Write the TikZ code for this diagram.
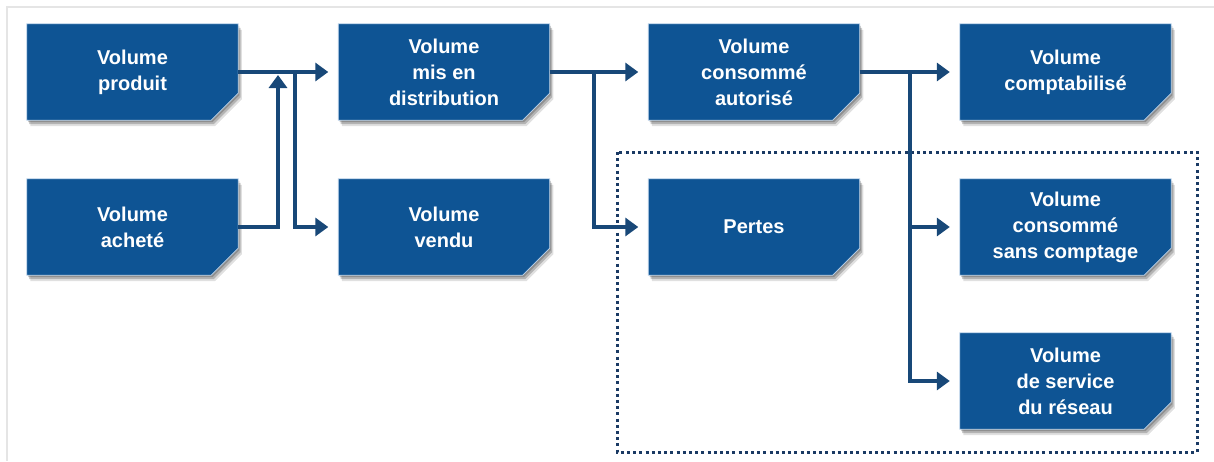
\documentclass[tikz,border=0pt]{standalone}
\usepackage{fontspec}
\setmainfont{Liberation Sans}
\usepackage{tikz}
\usetikzlibrary{arrows.meta}

\definecolor{volblue}{RGB}{14,84,148}
\definecolor{flowblue}{RGB}{24,72,120}
\definecolor{dotblue}{RGB}{26,58,100}
\definecolor{edgeblue}{RGB}{190,212,235}

\pgfdeclarelayer{bg}
\pgfdeclarelayer{boxes}
\pgfsetlayers{bg,boxes,main}

\tikzset{
  volnode/.style={rectangle, minimum width=211pt, minimum height=96pt, inner sep=0pt,
    text=white, align=center, font=\fontsize{20}{26}\selectfont\bfseries},
  flow/.style={draw=flowblue, line width=3.4pt, -{Triangle[length=13pt,width=18pt]}}
}

\begin{document}
\begin{tikzpicture}[x=1pt,y=-1pt]
  \useasboundingbox (0,0) rectangle (1214,461);
  \begin{pgfonlayer}{bg}
    \fill[white] (0,0) rectangle (1214,461);
    % frame
    \draw[black!10, line width=2pt] (7,461) -- (7,7) -- (1214,7);
    % losses
    \draw[dotblue, line width=3pt, dash pattern=on 3pt off 3.2pt] (617,152) rectangle (1197,452);
  \end{pgfonlayer}

  \node[volnode] (produit) at (132.5,72) {Volume\\produit};
  \node[volnode] (achete) at (132.5,227) {Volume\\acheté};
  \node[volnode] (distrib) at (444,72) {Volume\\mis en\\distribution};
  \node[volnode] (vendu) at (444,227) {Volume\\vendu};
  \node[volnode] (autorise) at (754,72) {Volume\\consommé\\autorisé};
  \node[volnode] (pertes) at (754,227) {Pertes};
  \node[volnode] (compta) at (1065.5,72) {Volume\\comptabilisé};
  \node[volnode] (sanscpt) at (1065.5,227) {Volume\\consommé\\sans comptage};
  \node[volnode] (service) at (1065.5,381) {Volume\\de service\\du réseau};

  % cut-corner boxes with shadow
  \begin{pgfonlayer}{boxes}
    \foreach \n in {produit,achete,distrib,vendu,autorise,pertes,compta,sanscpt,service} {
      \foreach \s/\o in {2/0.2,4/0.2,6/0.12}
        \fill[black, opacity=\o, transform canvas={xshift=0.6*\s pt, yshift=-\s pt}]
          (\n.north west) -- (\n.north east) -- ([yshift=27pt]\n.south east)
          -- ([xshift=-27pt]\n.south east) -- (\n.south west) -- cycle;
      \filldraw[fill=volblue, draw=edgeblue, line width=0.8pt]
        (\n.north west) -- (\n.north east) -- ([yshift=27pt]\n.south east)
        -- ([xshift=-27pt]\n.south east) -- (\n.south west) -- cycle;
    }
  \end{pgfonlayer}

  \coordinate (j1) at (278,72);
  \coordinate (b1) at (295,72);
  \coordinate (b2) at (594,72);
  \coordinate (b3) at (910,72);

  \draw[flow, shorten >=10pt] (produit.east) -- (distrib.west);
  \draw[flow, shorten >=3pt] (achete.east) -| (j1);
  \draw[flow, shorten >=10pt] (b1) |- (vendu.west);
  \draw[flow, shorten >=10pt] (distrib.east) -- (autorise.west);
  \draw[flow, shorten >=10pt] (b2) |- (pertes.west);
  \draw[flow, shorten >=10pt] (autorise.east) -- (compta.west);
  \draw[flow, shorten >=10pt] (b3) |- (sanscpt.west);
  \draw[flow, shorten >=10pt] (b3) |- (service.west);
\end{tikzpicture}
\end{document}
